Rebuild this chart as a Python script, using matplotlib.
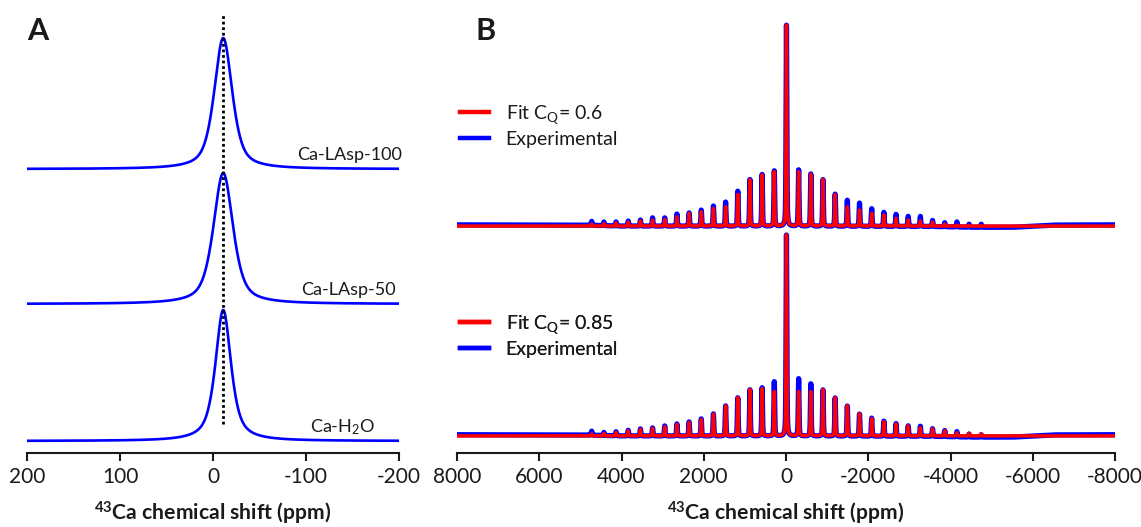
import numpy as np
import matplotlib.pyplot as plt
from matplotlib.lines import Line2D

plt.rcParams['font.family'] = ['Lato', 'DejaVu Sans']
plt.rcParams['mathtext.fontset'] = 'custom'
plt.rcParams['mathtext.rm'] = 'Lato'
plt.rcParams['mathtext.it'] = 'Lato:italic'
plt.rcParams['mathtext.bf'] = 'Lato:bold'
plt.rcParams['axes.unicode_minus'] = False

# ---- panel A: 43Ca static lines (ppm) ----
samples_a = ["Ca-H$_2$O", "Ca-LAsp-50", "Ca-LAsp-100"]
center_a = [-11, -11, -11]
fwhm_a = [20, 25, 23]
lorentz_frac_a = [0.7, 0.6, 0.6]

# ---- panel B: spinning sideband manifolds ----
iso_shift = -11
spin_step = 296          # ppm between sidebands
sb_fwhm = 22
cq_labels = ["0.6", "0.85"]

# sideband heights relative to centre band, n = 1..16
# "hi" = positive-ppm side, "lo" = negative-ppm side
fit06_hi = [0.27, 0.254, 0.23, 0.157, 0.096, 0.088, 0.071, 0.063, 0.046, 0.033, 0.03, 0.026, 0.02, 0.016, 0.013, 0.01]
fit06_lo = [0.27, 0.257, 0.232, 0.157, 0.096, 0.08, 0.063, 0.055, 0.038, 0.03, 0.026, 0.02, 0.01, 0.005, 0.004, 0.003]
exp06_hi = [0.275, 0.257, 0.232, 0.174, 0.12, 0.10, 0.08, 0.066, 0.06, 0.041, 0.041, 0.03, 0.025, 0.02, 0.018, 0.02]
exp06_lo = [0.28, 0.26, 0.232, 0.16, 0.13, 0.116, 0.088, 0.07, 0.06, 0.05, 0.05, 0.03, 0.02, 0.025, 0.015, 0.015]

fit085_hi = [0.22, 0.235, 0.23, 0.19, 0.15, 0.108, 0.082, 0.067, 0.057, 0.046, 0.038, 0.033, 0.026, 0.018, 0.013, 0.01]
fit085_lo = [0.22, 0.22, 0.23, 0.19, 0.15, 0.11, 0.087, 0.071, 0.06, 0.05, 0.041, 0.035, 0.026, 0.016, 0.013, 0.01]
exp085_hi = [0.27, 0.24, 0.23, 0.19, 0.15, 0.11, 0.085, 0.07, 0.06, 0.05, 0.04, 0.035, 0.028, 0.02, 0.015, 0.02]
exp085_lo = [0.285, 0.26, 0.23, 0.19, 0.15, 0.11, 0.09, 0.075, 0.063, 0.052, 0.05, 0.038, 0.03, 0.026, 0.015, 0.012]

# experimental baseline level (relative to fit) read at a few shifts
drift_ppm = [8000, 5000, 4000, -3500, -4500, -5500, -6500, -8000]
drift_lvl = [0.006, 0.005, 0.0, -0.002, -0.006, -0.006, 0.005, 0.006]


def pvoigt(x, c, w, eta):
    lor = 1.0 / (1.0 + ((x - c) / (w / 2.0)) ** 2)
    gau = np.exp(-4 * np.log(2) * ((x - c) / w) ** 2)
    return eta * lor + (1 - eta) * gau


def manifold(x, hi, lo):
    y = pvoigt(x, iso_shift, sb_fwhm, 0.5)
    for n, h in enumerate(hi, start=1):
        y += h * pvoigt(x, iso_shift + n * spin_step, sb_fwhm, 0.5)
    for n, h in enumerate(lo, start=1):
        y += h * pvoigt(x, iso_shift - n * spin_step, sb_fwhm, 0.5)
    return y


W, H = 1141, 527
fig = plt.figure(figsize=(W / 100, H / 100), dpi=100)

ax_bot, ax_top = 453, 10
axA = fig.add_axes([27 / W, (H - ax_bot) / H, 372 / W, (ax_bot - ax_top) / H])
axB = fig.add_axes([457 / W, (H - ax_bot) / H, 658 / W, (ax_bot - ax_top) / H])

blue = '#0000ff'
red = '#ff0000'
txt = '#1a1a1a'

# panel A
xa = np.linspace(200, -200, 2001)
offs_a = [0.0, 1.046, 2.076]
for i, name in enumerate(samples_a):
    ya = pvoigt(xa, center_a[i], fwhm_a[i], lorentz_frac_a[i]) + offs_a[i]
    axA.plot(xa, ya, color=blue, lw=1.9)
axA.vlines(center_a[0], 0.13, 3.27, colors='black', linestyles=(0, (1, 1)), lw=2)
axA.text(-174, offs_a[0] + 0.107, samples_a[0], ha='right', va='center', fontsize=13, color=txt)
axA.text(-197, offs_a[1] + 0.107, samples_a[1], ha='right', va='center', fontsize=13, color=txt)
axA.text(-203, offs_a[2] + 0.107, samples_a[2], ha='right', va='center', fontsize=13, color=txt, clip_on=False)
axA.set_xlim(200, -200)
axA.set_ylim(-12 / 131, 431 / 131)
axA.set_xticks([200, 100, 0, -100, -200])

# panel B
xb = np.linspace(8000, -8000, 16001)
drift = np.interp(xb, drift_ppm[::-1], drift_lvl[::-1])
offs_b = [1.129, 0.085]
sets = [(fit06_hi, fit06_lo, exp06_hi, exp06_lo), (fit085_hi, fit085_lo, exp085_hi, exp085_lo)]
for k, (fh, fl, eh, el) in enumerate(sets):
    axB.plot(xb, manifold(xb, eh, el) + drift + offs_b[k], color=blue, lw=3.8)
    axB.plot(xb, manifold(xb, fh, fl) + offs_b[k], color=red, lw=2.5)
axB.set_xlim(8000, -8000)
axB.set_ylim(0.0, 443 / 201)
axB.set_xticks(np.arange(8000, -8001, -2000))

for ax in (axA, axB):
    for s in ('left', 'right', 'top'):
        ax.spines[s].set_visible(False)
    ax.spines['bottom'].set_linewidth(1.5)
    ax.spines['bottom'].set_color(txt)
    ax.set_yticks([])
    ax.tick_params(axis='x', direction='out', length=6, width=1.5, labelsize=15, pad=4, colors=txt)
    ax.set_xlabel(r'$\mathbf{^{43}}$Ca chemical shift (ppm)', fontsize=15.2, fontweight='bold',
                  labelpad=9, color=txt)
    ax.patch.set_alpha(0)

# legends
for k, cq in enumerate(cq_labels):
    handles = [Line2D([], [], color=red, lw=3.2), Line2D([], [], color=blue, lw=3.2)]
    labels = ['Fit C$_\\mathrm{Q}$= ' + cq, 'Experimental']
    leg = axB.legend(handles, labels, loc='upper left', frameon=False, fontsize=14,
                     handlelength=1.5, handletextpad=0.85, labelspacing=0.25,
                     borderpad=0, borderaxespad=0, labelcolor=txt,
                     bbox_to_anchor=(460 / W, 1 - (103 if k == 0 else 313) / H),
                     bbox_transform=fig.transFigure)
    axB.add_artist(leg)

fig.text(27 / W, 1 - 31 / H, 'A', fontsize=22, fontweight='bold', va='center', ha='left', color=txt)
fig.text(475 / W, 1 - 31 / H, 'B', fontsize=22, fontweight='bold', va='center', ha='left', color=txt)

fig.savefig('out.png', dpi=100)
